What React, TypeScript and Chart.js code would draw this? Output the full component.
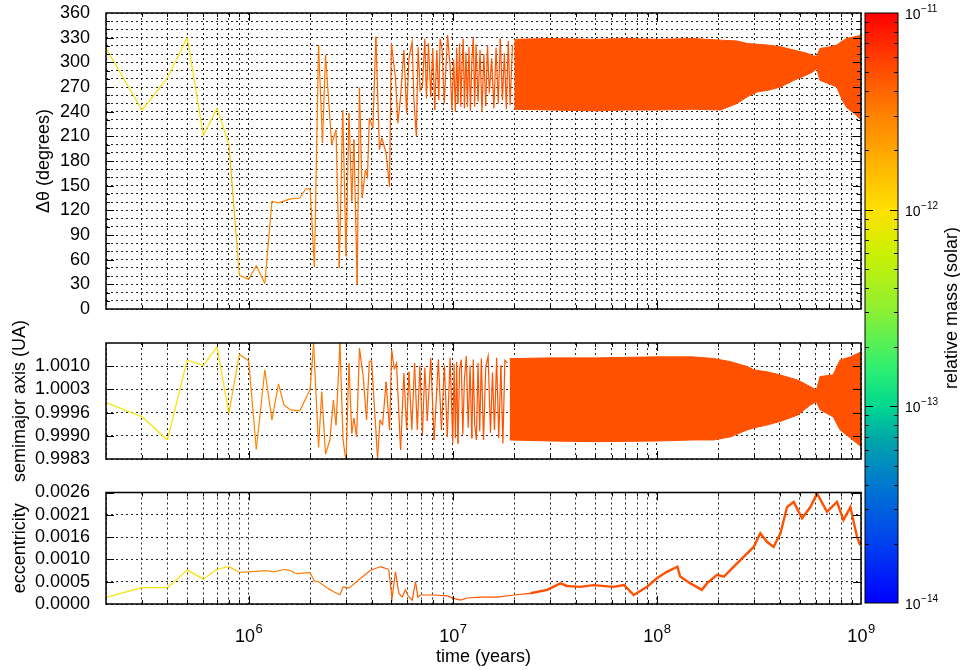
import React, { useEffect, useRef } from "react";
import { Chart, registerables } from "chart.js";
Chart.register(...registerables);

const FONT = '"Liberation Sans", Arial, Helvetica, sans-serif';

// ---------------- axes ----------------
const timeMin = 2e5;
const timeMax = 1e9;
const timeDecades = [5, 6, 7, 8];
const timeLabelExponents = [6, 7, 8, 9];
const xTitle = "time (years)";

const thetaMin = 0;
const thetaMax = 360;
const thetaGridStep = 10;
const thetaLabelStep = 30;
const thetaTitle = "\u0394\u03b8 (degrees)";

const semiMin = 0.9983;
const semiMax = 1.00165;
const semiTicks = [0.9983, 0.99897, 0.99964, 1.00031, 1.00098];
const semiTickLabels = ["0.9983", "0.9990", "0.9996", "1.0003", "1.0010"];
const semiTitle = "semimajor axis (UA)";

const eccMin = 0;
const eccMax = 0.0026;
const eccTicks = [0, 0.00052, 0.00104, 0.00156, 0.00208, 0.0026];
const eccTickLabels = ["0.0000", "0.0005", "0.0010", "0.0016", "0.0021", "0.0026"];
const eccTitle = "eccentricity";

const massMin = 1e-14;
const massMax = 1e-11;
const massLabelExponents = [-14, -13, -12, -11];
const massTitle = "relative mass (solar)";

// colour palette of the mass colour bar (fraction from bottom, colour)
const paletteFractions = [0, 0.1, 0.2, 0.28, 0.333, 0.4, 0.5, 0.6, 0.667, 0.75, 0.83, 0.92, 1];
const paletteColors = ["#0000ff", "#0040f0", "#0078d0", "#00a8a8", "#00d890", "#30f070", "#90f030", "#d0f000", "#ffe000", "#ffb000", "#ff8000", "#ff4000", "#ff0000"];

// mass of the body through time
const massTimes = [2e5, 8e5, 9e5, 2e6, 5e6, 1e7, 2e7, 1e9];
const massValues = [9e-13, 1.0e-12, 2.8e-12, 3.2e-12, 4.3e-12, 4.7e-12, 4.9e-12, 4.9e-12];

// ---------------- Δθ ----------------
const thetaTimes = [
  2e5, 3e5, 4e5, 5e5, 6e5, 7e5, 8e5, 9e5, 1e6, 1.09e6,
  1.2e6, 1.3e6, 1.4e6, 1.6e6, 1.78e6, 1.9e6, 2.0e6, 2.1e6, 2.2e6, 2.3e6,
  2.38e6, 2.55e6, 2.68e6, 2.78e6, 2.89e6, 3.0e6, 3.1e6, 3.2e6, 3.28e6, 3.4e6,
  3.49e6, 3.6e6, 3.73e6, 3.82e6, 3.9e6, 4.06e6, 4.2e6, 4.37e6, 4.49e6, 4.71e6,
  4.9e6, 5.0e6, 5.24e6, 5.38e6, 5.55e6, 5.76e6, 5.94e6, 6.1e6, 6.32e6, 6.45e6,
  6.63e6, 6.76e6, 6.92e6, 7.1e6, 7.3e6, 7.43e6, 7.6e6, 7.8e6, 7.98e6, 8.16e6,
  8.35e6, 8.54e6, 8.67e6, 8.87e6, 9.08e6, 9.43e6, 9.7e6, 9.9e6,
  1.01e7, 1.03e7, 1.045e7, 1.06e7, 1.08e7, 1.095e7, 1.11e7, 1.125e7, 1.14e7, 1.16e7,
  1.18e7, 1.2e7, 1.22e7, 1.24e7, 1.26e7, 1.28e7, 1.3e7, 1.33e7, 1.36e7, 1.39e7,
  1.42e7, 1.45e7, 1.48e7, 1.51e7, 1.55e7, 1.59e7, 1.63e7, 1.67e7, 1.71e7, 1.75e7,
  1.79e7, 1.83e7, 1.87e7, 1.91e7, 1.96e7,
];
const thetaValues = [
  317, 242, 281, 330, 211, 244, 200, 41, 36, 53,
  31, 131, 129, 134, 135, 146, 146, 51, 321, 202,
  309, 200, 218, 50, 242, 64, 238, 131, 206, 30,
  269, 135, 169, 161, 232, 220, 331, 194, 208, 190,
  149, 323, 281, 226, 258, 315, 238, 305, 325, 254,
  210, 319, 266, 272, 329, 256, 323, 258, 317, 242,
  315, 254, 329, 315, 250, 333, 295, 242,
  303, 240, 318, 250, 323, 246, 296, 329, 244, 312,
  246, 319, 241, 300, 331, 246, 322, 252, 315, 240,
  310, 247, 321, 262, 305, 244, 318, 250, 329, 254,
  311, 243, 326, 248, 321,
];
const thetaBandTimes = [2e7, 3e7, 5e7, 7e7, 1e8, 1.5e8, 2.05e8, 2.47e8, 2.77e8, 3.1e8, 3.5e8, 4.03e8, 4.68e8, 5.45e8, 5.86e8, 6.05e8, 6.3e8, 6.8e8, 7.6e8, 8.1e8, 8.5e8, 9.25e8, 1e9];
const thetaBandUpper = [328, 329, 328, 329, 328, 329, 327, 326, 323, 322, 321, 319, 315, 311, 308, 307, 317, 318, 321, 326, 329, 331, 333];
const thetaBandLower = [243, 242, 241, 242, 242, 243, 242, 250, 258, 264, 266, 270, 278, 285, 289, 293, 278, 275, 270, 254, 245, 238, 230];

// ---------------- semimajor axis ----------------
const semiTimes = [
  2e5, 3e5, 4e5, 5e5, 6e5, 7e5, 8e5, 9e5, 1e6, 1.09e6,
  1.2e6, 1.3e6, 1.4e6, 1.49e6, 1.6e6, 1.78e6, 2.0e6, 2.08e6, 2.2e6, 2.28e6,
  2.38e6, 2.5e6, 2.6e6, 2.68e6, 2.8e6, 2.9e6, 3.0e6, 3.1e6, 3.2e6, 3.28e6,
  3.38e6, 3.49e6, 3.64e6, 3.78e6, 3.9e6, 4.0e6, 4.15e6, 4.28e6, 4.4e6, 4.53e6,
  4.71e6, 4.9e6, 5.02e6, 5.17e6, 5.3e6, 5.55e6, 5.76e6, 5.94e6, 6.1e6, 6.3e6,
  6.5e6, 6.7e6, 6.9e6, 7.1e6, 7.3e6, 7.5e6, 7.8e6, 8.1e6, 8.5e6, 8.8e6,
  9.1e6, 9.4e6, 9.7e6,
  1.0e7, 1.015e7, 1.03e7, 1.045e7, 1.06e7, 1.08e7, 1.1e7, 1.12e7, 1.14e7, 1.165e7,
  1.19e7, 1.215e7, 1.24e7, 1.26e7, 1.28e7, 1.305e7, 1.33e7, 1.355e7, 1.38e7, 1.415e7,
  1.45e7, 1.49e7, 1.53e7, 1.565e7, 1.6e7, 1.64e7, 1.68e7, 1.72e7, 1.76e7, 1.8e7,
  1.85e7,
];
const semiValues = [
  0.99993, 0.99952, 0.99885, 1.00116, 1.001, 1.00154, 0.99962, 1.00132, 1.00114, 0.99858,
  1.00087, 0.99943, 1.00047, 0.99986, 0.99972, 0.99969, 1.00031, 1.00164, 0.99864, 1.00024,
  0.99844, 0.99885, 1.0, 0.99928, 1.00164, 0.99885, 0.99822, 1.00106, 0.99904, 0.99948,
  0.99894, 1.0015, 1.00068, 0.99943, 1.00111, 1.00114, 0.99962, 0.99832, 0.99943, 0.99928,
  1.00053, 0.99914, 1.00145, 1.00089, 1.00106, 0.99856, 1.00078, 0.99914, 1.00082, 0.99914,
  1.00107, 0.99914, 1.001, 0.999, 1.00094, 0.9994, 1.00122, 0.99885, 1.00117, 0.99914,
  1.001, 0.99894, 1.00122,
  0.99875, 1.00105, 0.9989, 1.00111, 0.99875, 1.0009, 1.00117, 0.999, 1.0006, 1.00127,
  0.9992, 1.001, 0.9989, 1.00117, 0.9993, 0.99885, 1.00107, 0.9991, 1.0012, 0.99885,
  1.00095, 1.00127, 0.99905, 1.0008, 0.99914, 1.00122, 0.9989, 1.001, 0.99875, 1.00115,
  1.00107,
];
const semiBandTimes = [1.9e7, 3e7, 5e7, 1e8, 1.5e8, 1.9e8, 2.3e8, 2.77e8, 3e8, 3.46e8, 4e8, 4.9e8, 5.65e8, 6.05e8, 6.3e8, 7.3e8, 7.9e8, 8.9e8, 9.8e8, 1e9];
const semiBandUpper = [1.0012, 1.00122, 1.00122, 1.00125, 1.00125, 1.0012, 1.00111, 1.00097, 1.00087, 1.00082, 1.00073, 1.00058, 1.00039, 1.00029, 1.00068, 1.00073, 1.00116, 1.00125, 1.00137, 1.0014];
const semiBandLower = [0.99885, 0.99882, 0.9988, 0.99882, 0.99885, 0.99885, 0.99894, 0.99914, 0.9992, 0.99928, 0.99938, 0.99957, 0.99986, 0.99995, 0.99972, 0.99952, 0.99914, 0.9989, 0.9987, 0.99865];

// ---------------- eccentricity ----------------
const eccTimes = [
  2e5, 3e5, 4e5, 5e5, 6e5, 7e5, 8e5, 9e5, 1e6, 1.22e6,
  1.33e6, 1.5e6, 1.6e6, 1.7e6, 2e6, 2.1e6, 2.2e6, 2.43e6, 2.6e6, 2.8e6,
  2.9e6, 3.1e6, 3.54e6, 3.94e6, 4.4e6, 4.85e6, 5.04e6, 5.24e6, 5.44e6, 5.65e6,
  5.86e6, 6.04e6, 6.33e6, 6.57e6, 6.74e6, 6.95e6, 8.07e6, 9.4e6, 1.01e7, 1.09e7,
  1.18e7, 1.37e7, 1.65e7, 1.99e7, 2.4e7, 2.9e7, 3.37e7, 3.63e7, 4.2e7, 4.9e7,
  6.1e7, 6.9e7, 7.7e7, 8.95e7, 1e8, 1.12e8, 1.26e8, 1.3e8, 1.46e8, 1.66e8,
  1.76e8, 1.97e8, 2.13e8, 2.38e8, 2.66e8, 2.98e8, 3.21e8, 3.46e8, 3.73e8, 4.03e8,
  4.34e8, 4.68e8, 5.14e8, 5.65e8, 6.09e8, 6.81e8, 7.63e8, 8.2e8, 8.87e8, 9.56e8,
  9.84e8, 1e9,
];
const eccValues = [
  0.000156, 0.00038, 0.00038, 0.00079, 0.00058, 0.00081, 0.00087, 0.00074, 0.00075, 0.00078,
  0.00075, 0.00081, 0.00078, 0.00071, 0.00073, 0.00053, 0.00052, 0.00037, 0.00029, 0.00021,
  0.0004, 0.00037, 0.0006, 0.00078, 0.00087, 0.00081, 0.00013, 0.00075, 0.00025, 0.00016,
  0.00033, 0.00019, 0.00009, 0.00052, 0.00016, 0.00021, 0.00021, 0.00019, 0.00013, 0.00009,
  0.00014, 0.00016, 0.00016, 0.00021, 0.00025, 0.00033, 0.00048, 0.00042, 0.0004, 0.00044,
  0.0004, 0.00044, 0.00021, 0.0004, 0.0006, 0.00075, 0.00087, 0.00064, 0.00048, 0.00033,
  0.00048, 0.00068, 0.00064, 0.00087, 0.0011, 0.00133, 0.00165, 0.00145, 0.00133, 0.00165,
  0.00226, 0.00238, 0.002, 0.00226, 0.00258, 0.00215, 0.00238, 0.00196, 0.00226, 0.00157,
  0.00141, 0.00145,
];

// ---------------- helpers ----------------
const hexToRgb = (h: string) => [parseInt(h.slice(1, 3), 16), parseInt(h.slice(3, 5), 16), parseInt(h.slice(5, 7), 16)];
function paletteAt(f: number) {
  const t = Math.max(0, Math.min(1, f));
  for (let i = 1; i < paletteFractions.length; i++) {
    if (t <= paletteFractions[i]) {
      const a = paletteFractions[i - 1], b = paletteFractions[i];
      const u = (t - a) / (b - a);
      const c0 = hexToRgb(paletteColors[i - 1]), c1 = hexToRgb(paletteColors[i]);
      const c = c0.map((v, k) => Math.round(v + (c1[k] - v) * u));
      return `rgb(${c[0]},${c[1]},${c[2]})`;
    }
  }
  return paletteColors[paletteColors.length - 1];
}
const massColor = (m: number) => paletteAt((Math.log10(m) - Math.log10(massMin)) / (Math.log10(massMax) - Math.log10(massMin)));
function massAt(t: number) {
  if (t <= massTimes[0]) return massValues[0];
  for (let i = 1; i < massTimes.length; i++) {
    if (t <= massTimes[i]) {
      const u = (Math.log10(t) - Math.log10(massTimes[i - 1])) / (Math.log10(massTimes[i]) - Math.log10(massTimes[i - 1]));
      return Math.pow(10, Math.log10(massValues[i - 1]) + u * (Math.log10(massValues[i]) - Math.log10(massValues[i - 1])));
    }
  }
  return massValues[massValues.length - 1];
}
const isPow10 = (v: number) => Math.abs(Math.log10(v) - Math.round(Math.log10(v))) < 1e-9;
const timeTickValues = timeDecades
  .flatMap((d) => [1, 2, 3, 4, 5, 6, 7, 8, 9].map((k) => k * Math.pow(10, d)))
  .concat([timeMax])
  .filter((v) => v >= timeMin * 0.9999 && v <= timeMax * 1.0001);

const pts = (xs: number[], ys: number[]) => xs.map((x, i) => ({ x, y: ys[i] }));
const GRID = "rgba(0,0,0,0.85)";
const DASH = [2, 3];

function drawPow10(ctx: CanvasRenderingContext2D, exp: number, cx: number, cy: number, base: number, sup: number, align: "center" | "left") {
  const e = exp < 0 ? "\u2212" + Math.abs(exp) : String(exp);
  ctx.font = `${base}px ${FONT}`;
  const w1 = ctx.measureText("10").width;
  ctx.font = `${sup}px ${FONT}`;
  const w2 = ctx.measureText(e).width;
  const x0 = align === "center" ? cx - (w1 + w2) / 2 : cx;
  ctx.textAlign = "left";
  ctx.textBaseline = "middle";
  ctx.font = `${base}px ${FONT}`;
  ctx.fillText("10", x0, cy);
  ctx.font = `${sup}px ${FONT}`;
  ctx.fillText(e, x0 + w1 + 0.5, cy - base * 0.42);
}

function framePlugin(cfg: { id: string; title: string; titleX: number; yMajor: (v: number) => boolean; xLabelY?: number; xTitleY?: number }) {
  return {
    id: cfg.id,
    afterDraw(chart: any) {
      const { ctx, chartArea: a, scales } = chart;
      const xs = scales.x, ys = scales.y;
      ctx.save();
      ctx.strokeStyle = "#000";
      ctx.lineWidth = 1;
      ctx.beginPath();
      xs.ticks.forEach((t: any) => {
        const px = Math.round(xs.getPixelForValue(t.value)) + 0.5;
        if (px < a.left + 1 || px > a.right - 1) return;
        const len = isPow10(t.value) ? 8 : 4;
        ctx.moveTo(px, a.bottom); ctx.lineTo(px, a.bottom - len);
        ctx.moveTo(px, a.top); ctx.lineTo(px, a.top + len);
      });
      ys.ticks.forEach((t: any) => {
        const py = Math.round(ys.getPixelForValue(t.value)) + 0.5;
        if (py < a.top + 1 || py > a.bottom - 1) return;
        const len = cfg.yMajor(t.value) ? 8 : 4;
        ctx.moveTo(a.left, py); ctx.lineTo(a.left + len, py);
        ctx.moveTo(a.right, py); ctx.lineTo(a.right - len, py);
      });
      ctx.stroke();
      ctx.lineWidth = 1.5;
      ctx.strokeRect(a.left, a.top, a.right - a.left, a.bottom - a.top);
      ctx.fillStyle = "#000";
      if (cfg.xLabelY !== undefined) {
        timeLabelExponents.forEach((e) => {
          drawPow10(ctx, e, xs.getPixelForValue(Math.pow(10, e)), cfg.xLabelY!, 18, 13, "center");
        });
        ctx.font = `18px ${FONT}`;
        ctx.textAlign = "center";
        ctx.textBaseline = "middle";
        ctx.fillText(xTitle, (a.left + a.right) / 2, cfg.xTitleY!);
      }
      ctx.translate(cfg.titleX, (a.top + a.bottom) / 2);
      ctx.rotate(-Math.PI / 2);
      ctx.font = `18px ${FONT}`;
      ctx.textAlign = "center";
      ctx.textBaseline = "middle";
      ctx.fillText(cfg.title, 0, 0);
      ctx.restore();
    },
  };
}

const bandColor = massColor(massAt(timeMax));

function lineDataset(xs: number[], ys: number[], wideAfter?: number) {
  return {
    data: pts(xs, ys),
    borderColor: massColor(massAt(xs[0])),
    borderWidth: 1.2,
    pointRadius: 0,
    tension: 0,
    fill: false,
    segment: {
      borderColor: (c: any) => massColor(massAt(Math.sqrt(c.p0.parsed.x * c.p1.parsed.x))),
      borderWidth: (c: any) => (wideAfter && c.p0.parsed.x >= wideAfter ? 2.4 : 1.2),
    },
  };
}
function bandDatasets(xs: number[], up: number[], lo: number[]) {
  return [
    { data: pts(xs, up), borderColor: bandColor, backgroundColor: bandColor, borderWidth: 1, pointRadius: 0, fill: "+1" },
    { data: pts(xs, lo), borderColor: bandColor, borderWidth: 1, pointRadius: 0, fill: false },
  ];
}

function xScale(height: number) {
  return {
    type: "logarithmic",
    min: timeMin,
    max: timeMax,
    afterBuildTicks: (s: any) => { s.ticks = timeTickValues.map((v) => ({ value: v })); },
    ticks: { display: false, autoSkip: false },
    grid: { drawTicks: false, color: GRID, lineWidth: 1 },
    border: { display: false, dash: DASH },
    afterFit: (s: any) => { s.height = height; s.paddingLeft = 0; s.paddingRight = 0; },
  };
}
function yScale(min: number, max: number, extra: any) {
  return {
    min,
    max,
    ticks: { autoSkip: false, padding: 16, color: "#000", font: { family: FONT, size: 18 }, ...extra.ticks },
    afterBuildTicks: extra.afterBuildTicks,
    grid: { drawTicks: false, color: GRID, lineWidth: 1 },
    border: { display: false, dash: DASH },
    afterFit: (s: any) => { s.width = 106; s.paddingTop = 0; s.paddingBottom = 0; },
  };
}

function baseOptions(padTop: number, xH: number, y: any) {
  return {
    responsive: false,
    maintainAspectRatio: false,
    animation: false,
    events: [],
    layout: { padding: { top: padTop, right: 99, left: 0, bottom: 0 } },
    plugins: { legend: { display: false }, tooltip: { enabled: false } },
    scales: { x: xScale(xH), y },
  };
}

export default function App() {
  const c1 = useRef<HTMLCanvasElement>(null);
  const c2 = useRef<HTMLCanvasElement>(null);
  const c3 = useRef<HTMLCanvasElement>(null);
  const c4 = useRef<HTMLCanvasElement>(null);

  useEffect(() => {
    Chart.defaults.font.family = FONT;
    const charts: Chart[] = [];

    charts.push(new Chart(c1.current!, {
      type: "line",
      data: { datasets: [lineDataset(thetaTimes, thetaValues), ...bandDatasets(thetaBandTimes, thetaBandUpper, thetaBandLower)] as any },
      options: baseOptions(13, 11, yScale(thetaMin, thetaMax, {
        ticks: { stepSize: thetaGridStep, callback: (v: any) => (Number(v) % thetaLabelStep === 0 ? String(v) : "") },
      })) as any,
      plugins: [framePlugin({ id: "f1", title: thetaTitle, titleX: 44, yMajor: (v) => v % thetaLabelStep === 0 })],
    }));

    charts.push(new Chart(c2.current!, {
      type: "line",
      data: { datasets: [lineDataset(semiTimes, semiValues), ...bandDatasets(semiBandTimes, semiBandUpper, semiBandLower)] as any },
      options: baseOptions(43, 41, yScale(semiMin, semiMax, {
        afterBuildTicks: (s: any) => { s.ticks = semiTicks.map((v) => ({ value: v })); },
        ticks: { callback: (_v: any, i: number) => semiTickLabels[i] },
      })) as any,
      plugins: [framePlugin({ id: "f2", title: semiTitle, titleX: 20, yMajor: () => true })],
    }));

    charts.push(new Chart(c3.current!, {
      type: "line",
      data: { datasets: [lineDataset(eccTimes, eccValues, 2e7)] as any },
      options: baseOptions(22.5, 66, yScale(eccMin, eccMax, {
        afterBuildTicks: (s: any) => { s.ticks = eccTicks.map((v) => ({ value: v })); },
        ticks: { callback: (_v: any, i: number) => eccTickLabels[i] },
      })) as any,
      plugins: [framePlugin({ id: "f3", title: eccTitle, titleX: 20, yMajor: () => true, xLabelY: 167, xTitleY: 187 })],
    }));

    const massTickValues = [-14, -13, -12]
      .flatMap((d) => [1, 2, 3, 4, 5, 6, 7, 8, 9].map((k) => k * Math.pow(10, d)))
      .concat([massMax]);

    charts.push(new Chart(c4.current!, {
      type: "bar",
      data: {
        labels: ["mass"],
        datasets: [{
          data: [[massMin, massMax]] as any,
          borderWidth: 0,
          barPercentage: 1,
          categoryPercentage: 1,
          backgroundColor: (ctx: any) => {
            const area = ctx.chart.chartArea;
            if (!area) return bandColor;
            const g = ctx.chart.ctx.createLinearGradient(0, area.bottom, 0, area.top);
            paletteFractions.forEach((f, i) => g.addColorStop(f, paletteColors[i]));
            return g;
          },
        }],
      },
      options: {
        responsive: false,
        maintainAspectRatio: false,
        animation: false,
        events: [],
        layout: { padding: { top: 13, bottom: 67, left: 5, right: 0 } },
        plugins: { legend: { display: false }, tooltip: { enabled: false } },
        scales: {
          x: { display: false },
          y: {
            type: "logarithmic",
            position: "right",
            min: massMin,
            max: massMax,
            afterBuildTicks: (s: any) => { s.ticks = massTickValues.map((v) => ({ value: v })); },
            ticks: { display: false },
            grid: { display: false },
            border: { display: false },
            afterFit: (s: any) => { s.width = 62; s.paddingTop = 0; s.paddingBottom = 0; },
          },
        },
      } as any,
      plugins: [{
        id: "cbar",
        afterDraw(chart: any) {
          const { ctx, chartArea: a, scales } = chart;
          const ys = scales.y;
          ctx.save();
          ctx.strokeStyle = "#000";
          ctx.lineWidth = 1;
          ctx.beginPath();
          ys.ticks.forEach((t: any) => {
            const py = Math.round(ys.getPixelForValue(t.value)) + 0.5;
            if (py < a.top + 1 || py > a.bottom - 1) return;
            const len = isPow10(t.value) ? 8 : 4;
            ctx.moveTo(a.left, py); ctx.lineTo(a.left + len, py);
            ctx.moveTo(a.right, py); ctx.lineTo(a.right - len, py);
          });
          ctx.stroke();
          ctx.strokeRect(a.left, a.top, a.right - a.left, a.bottom - a.top);
          ctx.fillStyle = "#000";
          massLabelExponents.forEach((e) => {
            drawPow10(ctx, e, 45, ys.getPixelForValue(Math.pow(10, e)) + 2, 14, 10, "left");
          });
          ctx.translate(92, (a.top + a.bottom) / 2);
          ctx.rotate(-Math.PI / 2);
          ctx.font = `18px ${FONT}`;
          ctx.textAlign = "center";
          ctx.textBaseline = "middle";
          ctx.fillText(massTitle, 0, 0);
          ctx.restore();
        },
      }],
    }));

    return () => charts.forEach((c) => c.destroy());
  }, []);

  return (
    <div style={{ position: "absolute", left: 0, top: 0, width: 960, height: 670, background: "#fff" }}>
      <canvas ref={c1} width={960} height={320} style={{ position: "absolute", left: 0, top: 0 }} />
      <canvas ref={c2} width={960} height={200} style={{ position: "absolute", left: 0, top: 300 }} />
      <canvas ref={c3} width={960} height={200} style={{ position: "absolute", left: 0, top: 470 }} />
      <canvas ref={c4} width={100} height={670} style={{ position: "absolute", left: 860, top: 0 }} />
    </div>
  );
}
